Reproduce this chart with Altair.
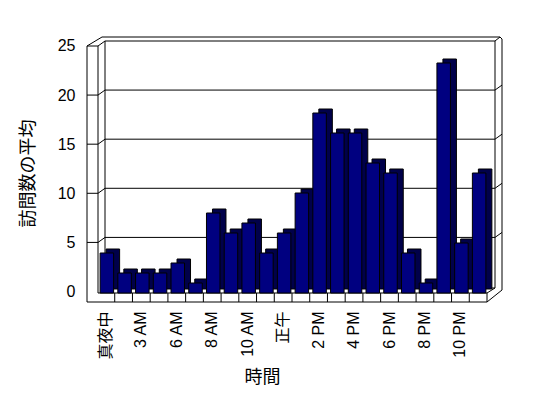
import altair as alt
import pandas as pd

# ---- data ----
HOURS = ["真夜中", "1 AM", "3 AM", "4 AM", "6 AM", "7 AM", "8 AM", "9 AM", "10 AM", "11 AM",
         "正午", "1 PM", "2 PM", "3 PM", "4 PM", "5 PM", "6 PM", "7 PM", "8 PM", "9 PM",
         "10 PM", "11 PM"]
VISITS = [4, 2, 2, 2, 3, 1, 8, 6, 7, 4, 6, 10, 18, 16, 16, 13, 12, 4, 1, 23, 5, 12]
SHOWN_LABELS = ["真夜中", "3 AM", "6 AM", "8 AM", "10 AM", "正午", "2 PM", "4 PM",
                "6 PM", "8 PM", "10 PM"]
Y_TICKS = [0, 5, 10, 15, 20, 25]
GRID_VALUES = [5, 10, 15, 20]

# ---- layout constants (pixels, relative to plot origin) ----
W, H = 390, 250
LATIN = "Liberation Sans"
CJK = "Noto Sans CJK JP"

bars_df = pd.DataFrame({"hour": HOURS, "visits": VISITS})
grid_df = pd.DataFrame({"v": GRID_VALUES})
slot_df = pd.DataFrame({"hour": HOURS[1:]})

LO, LI, BL, BR, RO = -10, 1, 8, 398, 405
TO, TI, WT = -6, -2, 3
FF, FB, BASE = 259, 245, 250
segments = [
    (LO, WT, LO, FF), (LI, WT, LI, BASE), (LO, WT, LI, WT),
    (LO, WT, 5, TO), (LI, WT, BL, TI),
    (5, TO, 403, TO), (BL, TI, BR, TI), (BR, TI, 403, TO), (403, TO, RO, -4),
    (RO, -4, RO, 247), (BR, TI, BR, FB), (BL, TI, BL, FB),
    (LO, FF, W, FF), (LI, BASE, W, BASE), (W, BASE, W, FF),
    (W, FF, RO, 247), (W, BASE, BR, FB), (BL, FB, BR, FB),
]
frame_df = pd.DataFrame(segments, columns=["x", "y", "x2", "y2"])

bar_y = alt.Scale(domain=[0, 25], nice=False, zero=False)
axis_y = alt.Scale(domain=[-0.15, 25.3], nice=False, zero=False)
xs = alt.Scale(domain=HOURS, paddingInner=0, paddingOuter=0)

frame = alt.Chart(frame_df).mark_rule(color="black", strokeWidth=1).encode(
    x=alt.X("x:Q", scale=None), x2="x2:Q",
    y=alt.Y("y:Q", scale=None), y2="y2:Q",
)

left_ticks = alt.Chart(grid_df).mark_rule(color="black").encode(
    y=alt.Y("v:Q", scale=axis_y, axis=alt.Axis(
        values=Y_TICKS, title="訪問数の平均", domain=False, ticks=False, grid=False,
        labelFont=LATIN, labelFontSize=16, labelColor="black", labelPadding=22,
        titleFont=CJK, titleFontSize=18, titleFontWeight="normal", titleColor="black",
        titleAngle=270, titleAlign="center", titleBaseline="middle",
        titleX=-69, titleY=130)),
    x=alt.value(LO), x2=alt.value(LI),
)
left_slants = alt.Chart(grid_df).mark_rule(color="black", y2Offset=-5).encode(
    y=alt.Y("v:Q", scale=axis_y, axis=None), y2="v:Q",
    x=alt.value(LI), x2=alt.value(BL),
)
back_grid = alt.Chart(grid_df).mark_rule(color="black", yOffset=-5).encode(
    y=alt.Y("v:Q", scale=axis_y, axis=None),
    x=alt.value(BL), x2=alt.value(BR),
)
right_slants = alt.Chart(grid_df).mark_rule(color="black", yOffset=-5, y2Offset=-10).encode(
    y=alt.Y("v:Q", scale=axis_y, axis=None), y2="v:Q",
    x=alt.value(BR), x2=alt.value(RO),
)

slot_ticks = alt.Chart(slot_df).mark_rule(color="black").encode(
    x=alt.X("hour:N", scale=xs, sort=HOURS, bandPosition=0, axis=None),
    y=alt.value(BASE), y2=alt.value(FF),
)

shadow = alt.Chart(bars_df).mark_bar(
    width=13.5, xOffset=7, yOffset=-4, fill="#00004a", stroke="black", strokeWidth=1
).encode(
    x=alt.X("hour:N", scale=xs, sort=HOURS, axis=None),
    y=alt.Y("visits:Q", scale=bar_y, axis=None),
)

label_list = "[" + ",".join("'" + s + "'" for s in SHOWN_LABELS) + "]"
front = alt.Chart(bars_df).mark_bar(
    width=13.5, xOffset=1, fill="#000080", stroke="black", strokeWidth=1
).encode(
    x=alt.X("hour:N", scale=xs, sort=HOURS, axis=alt.Axis(
        title="時間", labelAngle=-90, labelPadding=18, ticks=False, domain=False,
        labelOverlap=False,
        labelExpr="indexof(" + label_list + ", datum.value) >= 0 ? datum.value : ''",
        labelFont=LATIN + ", " + CJK, labelFontSize=16, labelColor="black",
        titleFont=CJK, titleFontSize=18, titleFontWeight="normal", titleColor="black",
        titleX=165, titleY=84, titleAlign="center", titleBaseline="middle")),
    y=alt.Y("visits:Q", scale=bar_y, axis=None),
)

chart = alt.layer(
    frame, back_grid, left_ticks, left_slants, right_slants, slot_ticks, shadow, front
).resolve_scale(x="independent", y="independent").properties(
    width=W, height=H,
    autosize=alt.AutoSizeParams(type="none"),
    padding={"left": 97, "top": 43, "right": 61, "bottom": 105},
    background="white",
).configure_view(strokeOpacity=0)

chart.save("out.html", embed_options={"renderer": "svg", "actions": False})
